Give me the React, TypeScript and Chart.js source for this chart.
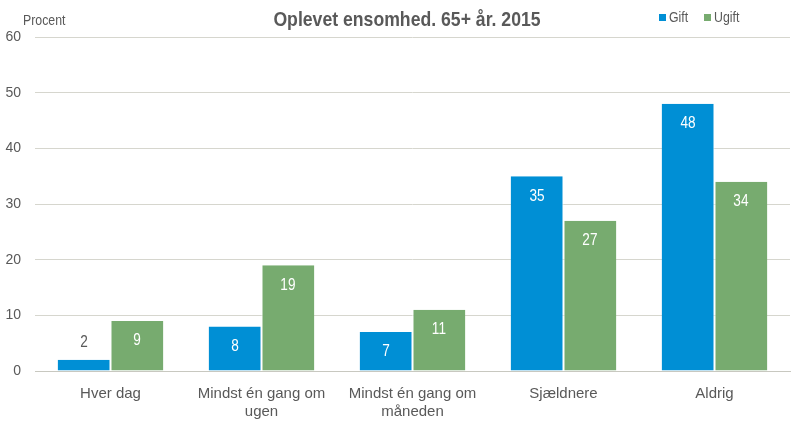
import React, { useEffect, useRef } from "react";
import { Chart, registerables } from "chart.js";

Chart.register(...registerables);

const categories: (string | string[])[] = [
  "Hver dag",
  ["Mindst én gang om", "ugen"],
  ["Mindst én gang om", "måneden"],
  "Sjældnere",
  "Aldrig",
];
const gift = [2, 8, 7, 35, 48];
const ugift = [9, 19, 11, 27, 34];
const seriesNames = ["Gift", "Ugift"];
const titleText = "Oplevet ensomhed. 65+ år. 2015";
const yAxisTitle = "Procent";

const BLUE = "#008FD5";
const GREEN = "#77AB6F";
const TEXT = "#595959";
const FONT = "'Liberation Sans', Arial, sans-serif";

function narrowText(ctx: CanvasRenderingContext2D, text: string, x: number, y: number, sx: number) {
  ctx.save();
  ctx.translate(x, y);
  ctx.scale(sx, 1);
  ctx.fillText(text, 0, 0);
  ctx.restore();
}

const overlayPlugin = {
  id: "overlay",
  afterDatasetsDraw(chart: any) {
    const ctx = chart.ctx;
    ctx.save();
    chart.data.datasets.forEach((ds: any, di: number) => {
      const meta = chart.getDatasetMeta(di);
      meta.data.forEach((bar: any, i: number) => {
        const v = ds.data[i];
        const h = bar.base - bar.y;
        ctx.font = `16px ${FONT}`;
        ctx.textAlign = "center";
        ctx.textBaseline = "middle";
        if (h < 30) {
          ctx.fillStyle = TEXT;
          narrowText(ctx, String(v), bar.x, bar.y - 17, 0.85);
        } else {
          ctx.fillStyle = "#ffffff";
          narrowText(ctx, String(v), bar.x, bar.y + 20, 0.85);
        }
      });
    });
    // title
    ctx.fillStyle = TEXT;
    ctx.textAlign = "center";
    ctx.textBaseline = "middle";
    ctx.font = `bold 21px ${FONT}`;
    narrowText(ctx, titleText, 407, 20, 0.84);
    // y axis title
    ctx.font = `14px ${FONT}`;
    ctx.textAlign = "left";
    narrowText(ctx, yAxisTitle, 23, 21, 0.88);
    // legend
    const items = [
      { name: seriesNames[0], color: BLUE, x: 659 },
      { name: seriesNames[1], color: GREEN, x: 704 },
    ];
    items.forEach((it) => {
      ctx.fillStyle = it.color;
      ctx.fillRect(it.x, 14, 7, 7);
      ctx.fillStyle = TEXT;
      ctx.font = `14px ${FONT}`;
      ctx.textAlign = "left";
      narrowText(ctx, it.name, it.x + 10, 18, 0.88);
    });
    ctx.restore();
  },
};

export default function App() {
  const ref = useRef<HTMLCanvasElement>(null);
  useEffect(() => {
    document.body.style.margin = "0";
    const chart = new Chart(ref.current!, {
      type: "bar",
      data: {
        labels: categories,
        datasets: [
          { label: seriesNames[0], data: gift, backgroundColor: BLUE, borderColor: "#ffffff", borderWidth: { right: 1 } as any, borderSkipped: "bottom" },
          { label: seriesNames[1], data: ugift, backgroundColor: GREEN, borderColor: "#ffffff", borderWidth: { left: 1 } as any, borderSkipped: "bottom" },
        ],
      },
      options: {
        animation: false,
        responsive: false,
        maintainAspectRatio: false,
        layout: { padding: { top: 37, right: 10, left: 0, bottom: 0 } },
        plugins: { legend: { display: false }, title: { display: false }, tooltip: { enabled: false } },
        datasets: { bar: { categoryPercentage: 0.7, barPercentage: 1.0 } },
        scales: {
          x: {
            grid: { display: false },
            border: { color: "#c8c8c0", width: 1 },
            ticks: { color: TEXT, font: { family: FONT, size: 15 }, maxRotation: 0, padding: 6 },
            afterFit: (s: any) => { s.height = 56; },
          },
          y: {
            min: 0,
            max: 60,
            ticks: { stepSize: 10, color: TEXT, font: { family: FONT, size: 14 }, padding: 14 },
            grid: { color: "#d6d6ce", lineWidth: 1, drawTicks: false },
            border: { display: false },
            afterFit: (s: any) => { s.width = 35; },
          },
        },
      },
      plugins: [overlayPlugin],
    });
    return () => chart.destroy();
  }, []);
  return <canvas ref={ref} width={800} height={427} style={{ display: "block" }} />;
}
